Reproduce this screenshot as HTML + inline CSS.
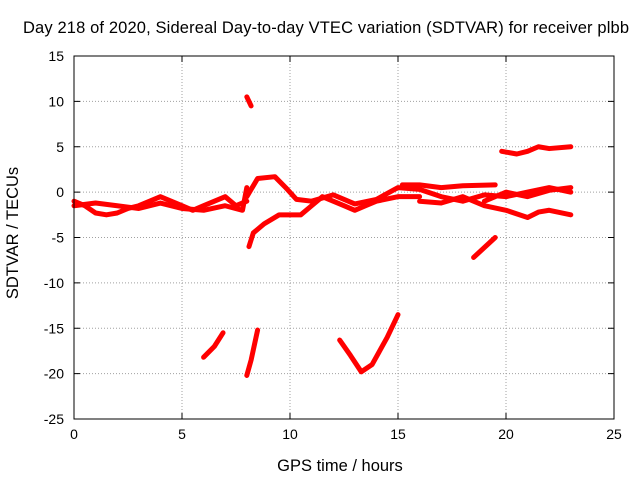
<!DOCTYPE html>
<html><head><meta charset="utf-8"><style>
body{margin:0;background:#fff;}
svg text{font-family:"Liberation Sans",sans-serif;font-size:14px;fill:#000;}
svg text.big{font-size:16.5px;}
</style></head><body>
<svg id="chart" width="640" height="480">
<text class="big" x="326" y="33" text-anchor="middle" textLength="606">Day 218 of 2020, Sidereal Day-to-day VTEC variation (SDTVAR) for receiver plbb</text>
<g id="grid"></g><g id="series"></g><g id="axes"></g>
<text class="big" x="340" y="471" text-anchor="middle">GPS time / hours</text>
<text class="big" transform="translate(18,233) rotate(-90)" text-anchor="middle">SDTVAR / TECUs</text>
</svg>
<script>
const xTicks=[0,5,10,15,20,25];
const yTicks=[-25,-20,-15,-10,-5,0,5,10,15];
const trackA=[[0,-1],[0.5,-1.5],[1,-2.3],[1.5,-2.5],[2,-2.3],[2.5,-1.8],[3,-1.5],[3.5,-1],[4,-0.5],[4.5,-1],[5,-1.5],[5.5,-2],[6,-1.5],[6.5,-1],[7,-0.5],[7.5,-1.5],[8,-1]];
const trackB=[[0,-1.5],[1,-1.2],[2,-1.5],[3,-1.8],[4,-1.2],[5,-1.8],[6,-2],[7,-1.5],[7.8,-2],[8,0.5]];
const trackC=[[8,10.5],[8.2,9.5]];
const trackD=[[8.1,-6],[8.3,-4.5],[8.8,-3.5],[9.5,-2.5],[10.5,-2.5],[11,-1.5],[11.5,-0.5],[12,-1],[12.5,-1.5],[13,-2],[13.5,-1.5],[14,-1],[15,-0.5],[16,-0.5]];
const trackE=[[8,-0.5],[8.5,1.5],[9.3,1.7],[9.8,0.5],[10.3,-0.8],[11,-1],[12,-0.3],[13,-1.3],[14,-0.8],[15,0.5],[16,0.3],[17,-0.5],[18,-1],[19,-0.3],[20,-0.5],[21,0],[22,0.5],[23,0]];
const trackF=[[15.2,0.8],[16,0.8],[17,0.5],[18,0.7],[19.5,0.8]];
const trackG=[[16,-1],[17,-1.2],[18,-0.5],[19,-1.5],[20,-2],[21,-2.8],[21.5,-2.2],[22,-2],[23,-2.5]];
const trackH=[[19,-1],[20,0],[21,-0.5],[22,0.2],[23,0.5]];
const trackI=[[19.8,4.5],[20.5,4.2],[21,4.5],[21.5,5],[22,4.8],[23,5]];
const trackJ=[[18.5,-7.2],[19.5,-5]];
const trackK=[[6,-18.2],[6.5,-17],[6.9,-15.5]];
const trackL=[[8,-20.2],[8.2,-18.5],[8.5,-15.2]];
const trackM=[[12.3,-16.3],[12.8,-18],[13.3,-19.8],[13.8,-19],[14.5,-16],[15,-13.5]];
const tracks=[trackA,trackB,trackC,trackD,trackE,trackF,trackG,trackH,trackI,trackJ,trackK,trackL,trackM];
const X0=74,X1=614,Y0=419,Y1=56;
const xs=v=>X0+(v-0)/25*(X1-X0);
const ys=v=>Y0-(v+25)/40*(Y0-Y1);
const NS="http://www.w3.org/2000/svg";
function mk(t,a,p){const e=document.createElementNS(NS,t);for(const k in a)e.setAttribute(k,a[k]);p.appendChild(e);return e;}
const grid=document.getElementById('grid'),axes=document.getElementById('axes'),ser=document.getElementById('series');
xTicks.forEach(t=>{
 const g=mk('line',{x1:xs(t),x2:xs(t),y1:Y0,y2:Y1,stroke:'#a0a0a0','stroke-dasharray':'1,2'},grid);
 
 
 mk('line',{x1:xs(t),x2:xs(t),y1:Y0,y2:Y0-6,stroke:'#000'},axes);
 mk('line',{x1:xs(t),x2:xs(t),y1:Y1,y2:Y1+6,stroke:'#000'},axes);
 const l=mk('text',{x:xs(t),y:Y0+20,'text-anchor':'middle'},axes);l.textContent=t;
 
 
});
yTicks.forEach(t=>{
 const g=mk('line',{x1:X0,x2:X1,y1:ys(t),y2:ys(t),stroke:'#a0a0a0','stroke-dasharray':'1,2'},grid);
 
 
 mk('line',{x1:X0,x2:X0+6,y1:ys(t),y2:ys(t),stroke:'#000'},axes);
 mk('line',{x1:X1,x2:X1-6,y1:ys(t),y2:ys(t),stroke:'#000'},axes);
 const l=mk('text',{x:X0-10,y:ys(t)+5,'text-anchor':'end'},axes);l.textContent=t;
 
 
});
const fr=mk('rect',{x:X0,y:Y1,width:X1-X0,height:Y0-Y1,fill:'none',stroke:'#000'},axes);


tracks.forEach(tr=>{
 const p=mk('polyline',{points:tr.map(d=>xs(d[0])+','+ys(d[1])).join(' '),fill:'none',stroke:'#ff0000','stroke-width':5,'stroke-linejoin':'round','stroke-linecap':'round'},ser);
 
 
});
</script>
</body></html>
